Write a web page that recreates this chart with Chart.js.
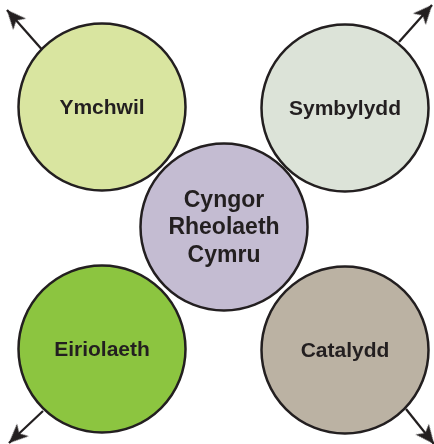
<!DOCTYPE html>
<html lang="cy">
<head>
<meta charset="UTF-8">
<title>Cyngor Rheolaeth Cymru</title>
<script src="https://cdn.jsdelivr.net/npm/chart.js"></script>
<style>
  html, body { margin: 0; padding: 0; background: #fff; }
  #wrap { width: 434px; height: 444px; }
</style>
</head>
<body>
<div id="wrap"><canvas id="diagram" width="434" height="444"></canvas></div>
<script>
// circles (x, y measured from the top-left of the picture)
const names = [['Ymchwil'], ['Symbylydd'], ['Eiriolaeth'], ['Catalydd'], ['Cyngor', 'Rheolaeth', 'Cymru']];
const circleX = [102, 345, 102, 345, 224];
const circleY = [107, 108, 349, 350, 227];
const circleR = [83.5, 83.5, 83.5, 83.5, 83.5];
const fills = ['#d9e5a0', '#dce3d8', '#8cc540', '#bbb2a3', '#c4bcd2'];

// arrows: from the circle edge out to the tip
const arrowFrom = [[45, 53], [399, 42], [43, 411], [406, 409]];
const arrowTo = [[7, 10], [432, 5], [9, 443], [434, 444]];

const ink = '#231f20';

// arrowhead image, tip at the centre so it sits on the data point
function makeHead() {
  const c = document.createElement('canvas');
  c.width = 40; c.height = 40;
  const g = c.getContext('2d');
  g.fillStyle = ink;
  g.beginPath();
  g.moveTo(20, 20);
  g.lineTo(28.5, 39);
  g.lineTo(20, 34);
  g.lineTo(11.5, 39);
  g.closePath();
  g.fill();
  return c;
}
const head = makeHead();

const datasets = [];
arrowFrom.forEach((p, i) => {
  const q = arrowTo[i];
  const ang = Math.atan2(q[0] - p[0], -(q[1] - p[1])) * 180 / Math.PI;
  datasets.push({
    type: 'line',
    data: [{ x: p[0], y: p[1] }, { x: q[0], y: q[1] }],
    borderColor: ink,
    borderWidth: 2.3,
    pointRadius: [0, 5],
    pointStyle: head,
    pointRotation: ang,
    clip: false,
    order: 2
  });
});

datasets.push({
  type: 'bubble',
  data: names.map((n, i) => ({ x: circleX[i], y: circleY[i], r: circleR[i] })),
  backgroundColor: fills,
  borderColor: ink,
  borderWidth: 2.5,
  hoverRadius: 0,
  clip: false,
  order: 1
});

const labelPlugin = {
  id: 'labels',
  afterDatasetsDraw(chart) {
    const meta = chart.getDatasetMeta(datasets.length - 1);
    const ctx = chart.ctx;
    ctx.save();
    ctx.fillStyle = ink;
    ctx.textAlign = 'center';
    ctx.textBaseline = 'middle';
    meta.data.forEach((el, i) => {
      const lines = names[i];
      const size = lines.length > 1 ? 23 : 21;
      const lh = 27.5;
      ctx.font = 'bold ' + size + 'px "Liberation Sans", Arial, sans-serif';
      lines.forEach((t, j) => {
        ctx.fillText(t, el.x, el.y + 1 + (j - (lines.length - 1) / 2) * lh);
      });
    });
    ctx.restore();
  }
};

new Chart(document.getElementById('diagram'), {
  type: 'bubble',
  data: { datasets },
  options: {
    responsive: false,
    animation: false,
    events: [],
    layout: { padding: 0, autoPadding: false },
    plugins: { legend: { display: false }, tooltip: { enabled: false } },
    scales: {
      x: { type: 'linear', min: 0, max: 434, display: false },
      y: { type: 'linear', min: 0, max: 444, reverse: true, display: false }
    }
  },
  plugins: [labelPlugin]
});
</script>
</body>
</html>
